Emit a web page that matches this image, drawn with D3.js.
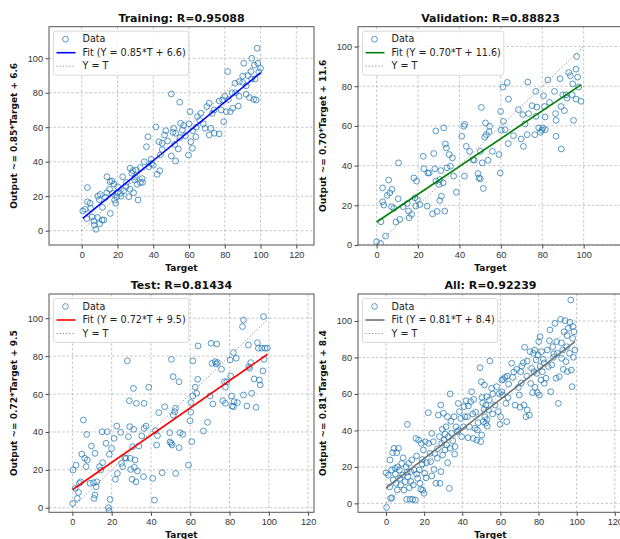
<!DOCTYPE html>
<html>
<head>
<meta charset="utf-8">
<style>
  body { margin: 0; background: #fff; }
  svg { display: block; font-family: "DejaVu Sans", sans-serif; }
  .tick text { font-size: 9.2px; fill: #333; }
  .tick line { stroke: #444; }
  .domain { display: none; }
</style>
</head>
<body>
<script src="https://d3js.org/d3.v7.min.js"></script>
<script>
const W = 620, H = 539;

// [target, output] pairs
const trainData = [
  [0.6,11.4],[1.9,12.4],[3.2,16.8],[3.2,25],[2.8,7],[4.7,15.9],[5.8,8],[7.1,3.3],[7.9,0.8],[6.8,5.6],
  [8.8,7.7],[9.8,18],[10.3,21],[11.4,6.2],[12.4,6.2],[11.6,13.5],[13.3,19.3],[14.1,31.3],[15.9,28.4],[16.9,28.8],
  [15.6,24],[17.3,21.7],[18.4,17.8],[19,15.9],[19.7,19.7],[20.1,25.5],[21.6,21.7],[22.9,31.3],[23.5,23.2],[24.8,25.5],
  [26.3,19.7],[27,36.2],[28,33.3],[28.7,34.8],[29.6,29.4],[30.4,35.2],[31,26.9],[31.5,17.8],[32.8,27.9],[33.8,30.2],
  [32.8,36.6],[36.2,48.7],[37,54.5],[37.5,37.1],[38.8,41.4],[41.5,60.2],[42.2,32.7],[43.7,34.8],[43.2,51.6],[45,50.7],
  [46.3,55.5],[50.1,79.3],[50.1,43.3],[51.4,59.4],[52.5,56.5],[52.5,40.4],[54.8,74.5],[55.3,62.3],[54,47.4],[56.3,58.4],
  [59.7,43.9],[60.6,69],[61,51.6],[61.9,47.8],[63.8,54.5],[64.7,66.2],[66.6,68.1],[69,59.4],[71.3,55.5],[71.3,73.9],
  [72.2,59.4],[74.1,56.5],[76.9,56.1],[76.9,75.2],[78.8,75.8],[79.4,63.2],[80.9,69],[81.6,92.3],[83.1,69],[84.4,71],
  [85.7,85.5],[87.6,72.3],[88.2,86.5],[90,89.7],[90.6,97.1],[92,79.1],[93.8,77.2],[94.7,92.3],[95.1,100],[96.2,76.2],
  [97.6,75.8],[98.5,97.1],[98.1,105.8],[100,94.2],[96.5,96],[20,22],[25,28],[35,40],[45,47],[48,52],
  [52,50],[58,55],[62,58],[68,62],[74,70],[82,76],[86,80],[92,84],[95,88],[5,13],
  [9,20],[14,22],[18,27],[22,20],[27,24],[30,31],[34,28],[39,39],[44,44],[47,58],
  [51,57],[55,54],[57,61],[60,62],[66,64],[70,72],[73,68],[78,70],[80,78],[84,80],
  [88,78],[90,86],[93,90],[97,88],[99,92],[10,4],[16,10],[29,22],[40,38],[64,60]
];

const valData = [
  [0,1.7],[1.9,0.8],[2.1,11.7],[2.9,28.8],[2.9,21.8],[3.5,20.1],[4.3,4.5],[5.1,25],[5.8,32.7],[6.4,26.3],
  [7.4,28],[7.2,19.3],[8.3,18.4],[9.3,11.6],[10.6,41.4],[10.4,23.3],[11.2,12.9],[12.8,19.3],[14.8,20.9],[15.4,17.1],
  [15.7,13.7],[16.9,15.4],[18,33.8],[18.5,23.8],[19.3,32.2],[18.9,19.6],[19.7,22.9],[20.9,20.4],[22.5,44.7],[22.8,38.4],
  [24.7,36.3],[25.4,36.3],[24.4,19.6],[27,15.7],[27.6,46.1],[28.1,38.4],[28.6,57.5],[28.6,32.2],[29.2,16.9],[30.2,30.5],
  [30.5,33],[31,37.5],[30.5,22.4],[31.3,24.6],[32.1,31.3],[32.4,59],[32.9,17.1],[33.2,50.9],[33.7,48.9],[34,38.9],
  [35,45.6],[35.6,39.7],[36.6,43.9],[37.2,34.7],[38.5,26.6],[41.1,54.8],[42.1,59.8],[42.5,60.8],[42.4,34.7],[43.3,49.7],
  [44.9,47.2],[46.5,43],[47.2,42.7],[49,36],[49.4,33.8],[50.1,33.3],[50.1,47.2],[50.6,69.3],[51,41.4],[51.5,28.5],
  [52.2,54.4],[52.6,61.5],[53,55.6],[53.8,42.7],[54.3,57.1],[54.6,59.8],[55.9,47.2],[59.1,45.6],[59.7,36.3],[59.9,67.3],
  [60.2,57.8],[61,79.6],[61.3,62.3],[62,58.1],[63.1,81.9],[63.6,51.1],[63.7,73.5],[66.1,55.1],[68.5,68.2],[69.8,53.4],
  [70.6,65.7],[70.9,49.7],[71.7,61],[72.7,55.6],[73,82.1],[73.4,66.2],[75.1,70.2],[76.4,55.6],[76.9,77.4],[77,64.8],
  [77.4,69.5],[78.3,59],[79.1,56.8],[79.8,57.8],[80.3,59],[80.6,75.2],[81.1,69.8],[81.4,64.5],[81.5,58.1],[82.7,83.2],
  [83.5,71.9],[85.9,77.4],[86.4,66.2],[86.7,62.8],[86.7,54.8],[88.6,83.8],[89.1,69.8],[89.2,48.4],[89.9,75.7],[90.7,67.7],
  [91.5,75.7],[92,74],[92.8,86.9],[93.6,85.3],[94.4,75.7],[94.7,81.2],[95.1,62.8],[96.3,88.6],[96.3,73.5],[96.6,95],
  [97.1,84.6],[97.6,79.6],[98.7,72.4]
];

const testData = [
  [0.2,2.3],[0.3,19.9],[1.9,22.5],[1.4,10.2],[2.5,4.9],[3.1,8.1],[3.6,12.9],[4.2,13.7],[4.8,28.3],[5.6,46.3],
  [6.3,26.1],[7,21.7],[7.3,38.7],[7.6,25.2],[9,12.9],[9.7,32.6],[10.7,13.2],[11,4.9],[11.5,6.7],[11.5,28.7],
  [12.1,11.1],[12.4,13.7],[13.8,21.7],[14.4,19.9],[15.1,40.1],[15.4,23.8],[17.1,34],[17.8,40.1],[18.3,0],[18.7,-1.6],
  [18.8,28.2],[19.2,4.4],[20,31.3],[21.2,36.6],[21.9,15],[22.6,43.1],[22.9,18.1],[24.6,39.8],[25,23.4],[25.6,21.7],
  [26.7,26.4],[27.3,26.1],[28,77.6],[28.5,37.5],[29,56.5],[29.2,42.8],[29.4,26.1],[29.7,20.2],[30.4,15],[30.7,32.2],
  [31.1,63],[31.2,41.4],[31.6,21.3],[31.9,25.2],[32.4,13.7],[32.6,55.1],[33.1,19.4],[33.8,32.6],[35.3,37.9],[36.2,16.4],
  [36.5,55.1],[36.5,41.9],[37.5,43.1],[38.9,63.6],[40.9,15.5],[41.8,4],[42.3,40.7],[42.9,33.1],[43.3,38],[44,50.2],
  [45.7,18.5],[47,53.3],[49.6,39.6],[49.7,34.7],[50.3,34],[50.4,78.3],[50.8,33.1],[51.3,69.2],[51.4,48.9],[52.1,50.7],
  [52.5,52.5],[52.6,18.1],[54.3,66.5],[54.3,31.7],[54.8,39.6],[56.2,38.7],[59.1,22.5],[59.9,45.9],[60.3,50.4],[60.3,55.5],
  [60.8,34.9],[61.3,77.5],[61.3,59],[62.5,63.6],[63.3,60.4],[63.8,67.8],[64,85.4],[66.7,40.5],[68.8,45.1],[70.1,59],
  [70.6,86.8],[71.1,76.2],[71.5,54.8],[72.7,77.1],[73.2,75.9],[73.5,86.4],[73.9,76.6],[75.9,73.1],[76.6,56.5],[77.4,66.5],
  [77.9,63.6],[77.9,55.1],[78.6,66.5],[80.3,78],[80.6,69.5],[81,59],[81.3,53.7],[82,53.3],[82,81.9],[82.3,56],
  [83.4,78.9],[84,55.5],[86.6,95.6],[87.1,99.1],[87.1,59.5],[88.8,53.7],[89.6,85.9],[89.8,74.5],[90.2,73.6],[90.8,76.6],
  [91.3,60.4],[92.5,68],[93.5,53],[94.2,87.1],[94.7,84.2],[95.2,67.4],[95.6,64.8],[96.4,84.2],[97,72.2],[97.3,100.9],
  [97.6,78.3],[98.1,84.2],[99.3,84.2]
];

const allData = [
  [0.3,-2.2],[0,16.8],[1.2,15.5],[2.1,23.8],[2.4,2.7],[3.1,3.1],[3,18.3],[3.5,27.8],[3.8,12.8],[4.2,30.2],
  [4.7,19.2],[4.9,16.1],[5.2,11],[5.6,27.8],[5.9,7.3],[6.5,30.2],[7,18.3],[7.3,13.7],[7.7,10.1],[8.2,21.9],
  [8.7,15.5],[9.4,7.3],[10,11.9],[10.5,20.1],[10.8,2.2],[11.2,43.3],[11.4,14.6],[11.9,21.9],[12.2,8.6],[12.6,2.2],
  [12.9,17.4],[13.5,23.8],[14,2.2],[14.3,10.1],[14.7,18.3],[15.4,1.8],[15.7,35.6],[16.1,16.1],[16.6,13.7],[17.1,34.7],
  [17.5,18.3],[17.8,11],[18.2,7.7],[18.5,32.9],[18.9,21.6],[19.2,7.3],[19.6,29.3],[19.9,5.5],[20.3,16.5],[20.6,33.8],
  [21.3,22.3],[22.2,49.7],[22.4,32.9],[23.1,27.4],[23.4,22.9],[24,38.4],[24.8,33.8],[25.2,18.6],[25.5,27.4],[26.2,11],
  [26.9,24.7],[27.4,48.4],[28,36.6],[28.3,11],[28.7,53.9],[28.8,17.4],[29.2,32.9],[29.5,40.6],[29.7,26.5],[30.1,49.4],
  [30.4,34.7],[30.9,29.3],[31.5,42],[31.8,32],[32.2,47.5],[32.3,22.3],[32.7,36.6],[33.2,8.2],[33.6,60],[33.6,30.2],
  [34.4,38.4],[35,34.4],[35.7,47.5],[36.2,31.1],[36.7,42],[37.4,39.3],[37.9,54.8],[38.5,50.3],[39.2,46.6],[39.7,36.6],
  [40.6,42],[40.9,53],[41.4,47.5],[42,56.3],[42.7,47.5],[43.2,53.4],[43.7,42],[44.4,55.8],[44.9,61.2],[45.5,49],
  [45.8,35.6],[46.7,41.1],[47.6,34.7],[47.9,40.2],[48.4,44.2],[49.3,74.4],[49.7,33.8],[50,66.7],[50.2,37.5],[50.3,58.1],
  [50.7,55.2],[51,44.8],[51.4,51.6],[51.6,64.9],[51.9,47.5],[52.3,43.9],[52.4,53.9],[52.8,58.5],[53.1,42.4],[53.7,51.2],
  [54.2,56.7],[54.5,78.1],[55.4,63.1],[55.9,49],[57.2,53.9],[58.9,50.3],[59.4,60.3],[59.8,43.3],[60.1,47.5],[60.7,61.2],
  [60.7,67.6],[61.2,59.4],[61.5,68],[62.4,69.1],[62.9,54.8],[63.3,44.8],[63.6,69.8],[64.3,65.4],[65.9,76.8],[66.4,69.1],
  [67.7,53.9],[68.5,73.5],[69.4,63.6],[69.9,59.4],[70.3,52.7],[70.6,72.2],[71.2,75.3],[72,77.1],[72.4,53.9],[72.7,85.6],
  [73.4,47.5],[73.8,69.8],[74.1,51.2],[75.2,48.4],[75.5,83.2],[75.9,65.8],[76.4,74],[76.9,60.7],[77.3,82.3],[77.6,72.2],
  [78.1,63.6],[78.7,78.6],[79,71.3],[79.4,60.7],[79.7,81.4],[80.1,88.7],[80.4,59.4],[80.8,91.4],[80.8,75],[81.3,67.6],
  [81.6,83.2],[82,72.2],[82.5,79],[83,65.8],[83.9,68.6],[84.6,84.1],[85.1,75],[85.7,89.2],[86,95.1],[86.4,61.2],
  [86.9,75.9],[87.4,85.9],[87.8,80.1],[88.6,98.7],[89.2,68.6],[89.5,88.7],[89.9,82.3],[90.4,54.8],[90.9,69.5],[91.6,100.9],
  [92.1,79.5],[92.7,84.1],[93,73.5],[93.4,94.1],[93.9,100.2],[94.4,77.7],[94.8,85.9],[95.1,72.2],[95.6,96],[96.2,82.3],
  [96.5,99.3],[96.9,111.5],[97.2,73.1],[97.6,64],[97.9,90.5],[98.3,80.1],[98.6,94.1],[99.1,84.1],
  [6,20],[9,25],[13,12],[16,26],[21,14],[27,30],[31,38],[34,45],[38,40],[43,36],
  [47,50],[53,46],[56,60],[58,64],[64,58],[67,72],[71,66],[74,78],[78,84],[83,77],
  [88,82],[92,88],[95,92],[98,97],[2,9],[11,17],[19,24],[24,15],[36,27],[46,57]
];

const panelTitles = ["Training: R=0.95088", "Validation: R=0.88823", "Test: R=0.81434", "All: R=0.92239"];
const fitSlopes = [0.85, 0.70, 0.72, 0.81];
const fitIntercepts = [6.6, 11.6, 9.5, 8.4];
const fitColors = ["#0000ff", "#008000", "#ff0000", "#707070"];
const xTicks = [0, 20, 40, 60, 80, 100, 120];
const yTicks = [0, 20, 40, 60, 80, 100];
const xLims = [[-18.3, 129.9], [-9.0, 119.0], [-11.9, 123.0], [-14.7, 124.3]];
const yLims = [[-8.3, 118.3], [0, 110.0], [-2.4, 112.8], [-4.9, 114.8]];
const datasets = [trainData, valData, testData, allData];

// axes boxes [left, top, right, bottom]
const boxes = [
  [49, 26.7, 314, 245],
  [358, 26.7, 623, 245],
  [49, 294, 314, 512.3],
  [358, 294, 623, 512.3]
];

const svg = d3.select("body").append("svg")
  .attr("width", W)
  .attr("height", H);

boxes.forEach((b, i) => {
  const [l, t, r, bt] = b;
  const data = datasets[i];
  const x = d3.scaleLinear().domain(xLims[i]).range([l, r]);
  const y = d3.scaleLinear().domain(yLims[i]).range([bt, t]);
  const xt = xTicks.filter(v => v >= xLims[i][0] && v <= xLims[i][1]);
  const yt = yTicks.filter(v => v >= yLims[i][0] && v <= yLims[i][1]);

  const g = svg.append("g");
  g.append("clipPath").attr("id", "clip" + i)
    .append("rect").attr("x", l).attr("y", t).attr("width", r - l).attr("height", bt - t);

  // grid
  g.selectAll(".gx").data(xt).enter().append("line")
    .attr("x1", d => x(d)).attr("x2", d => x(d)).attr("y1", t).attr("y2", bt)
    .attr("stroke", "#b8b8b8").attr("stroke-width", 0.8).attr("stroke-dasharray", "2.5,2");
  g.selectAll(".gy").data(yt).enter().append("line")
    .attr("y1", d => y(d)).attr("y2", d => y(d)).attr("x1", l).attr("x2", r)
    .attr("stroke", "#b8b8b8").attr("stroke-width", 0.8).attr("stroke-dasharray", "2.5,2");

  const plot = g.append("g").attr("clip-path", `url(#clip${i})`);
  const tExt = d3.extent(data, d => d[0]);

  plot.selectAll("circle").data(data).enter().append("circle")
    .attr("cx", d => x(d[0])).attr("cy", d => y(d[1])).attr("r", 2.9)
    .attr("fill", "none").attr("stroke", "#1f77b4").attr("stroke-opacity", 0.75).attr("stroke-width", 1);

  const line = d3.line().x(d => x(d[0])).y(d => y(d[1]));
  plot.append("path")
    .attr("d", line([[tExt[0], fitSlopes[i] * tExt[0] + fitIntercepts[i]], [tExt[1], fitSlopes[i] * tExt[1] + fitIntercepts[i]]]))
    .attr("stroke", fitColors[i]).attr("stroke-width", 1.6).attr("fill", "none");
  plot.append("path")
    .attr("d", line([[0, 0], [100, 100]]))
    .attr("stroke", "#888").attr("stroke-width", 1).attr("stroke-dasharray", "1.2,2").attr("fill", "none");

  // axes
  g.append("g").attr("transform", `translate(0,${bt})`)
    .call(d3.axisBottom(x).tickValues(xt).tickSize(3.5).tickPadding(2.5));
  g.append("g").attr("transform", `translate(${l},0)`)
    .call(d3.axisLeft(y).tickValues(yt).tickSize(3.5).tickPadding(2.5));

  g.append("rect").attr("x", l).attr("y", t).attr("width", r - l).attr("height", bt - t)
    .attr("fill", "none").attr("stroke", "#555").attr("stroke-width", 1);

  // title and labels
  g.append("text").attr("x", (l + r) / 2).attr("y", t - 5)
    .attr("text-anchor", "middle").attr("font-size", 11).attr("font-weight", "bold").attr("fill", "#111")
    .text(panelTitles[i]);
  g.append("text").attr("x", (l + r) / 2).attr("y", bt + 26)
    .attr("text-anchor", "middle").attr("font-size", 9).attr("font-weight", "bold").attr("fill", "#111")
    .text("Target");
  g.append("text")
    .attr("transform", `translate(${l - 32},${(t + bt) / 2}) rotate(-90)`)
    .attr("text-anchor", "middle").attr("font-size", 9).attr("font-weight", "bold").attr("fill", "#111")
    .text(`Output ~= ${fitSlopes[i].toFixed(2)}*Target + ${fitIntercepts[i].toFixed(1)}`);

  // legend
  const lg = g.append("g").attr("transform", `translate(${l + 4.5},${t + 4.5})`);
  const bg = lg.append("rect").attr("rx", 2.5)
    .attr("fill", "#fff").attr("fill-opacity", 0.85).attr("stroke", "#d0d0d0").attr("stroke-width", 0.8);
  const labels = ["Data", `Fit (Y = ${fitSlopes[i].toFixed(2)}*T + ${fitIntercepts[i].toFixed(1)})`, "Y = T"];
  labels.forEach((s, k) => {
    lg.append("text").attr("x", 29).attr("y", 11 + k * 13.5).attr("font-size", 9.6).attr("fill", "#222").text(s);
  });
  lg.append("circle").attr("cx", 12).attr("cy", 8).attr("r", 2.9)
    .attr("fill", "none").attr("stroke", "#1f77b4").attr("stroke-opacity", 0.75);
  lg.append("line").attr("x1", 3).attr("x2", 22).attr("y1", 21.5).attr("y2", 21.5)
    .attr("stroke", fitColors[i]).attr("stroke-width", 1.6);
  lg.append("line").attr("x1", 3).attr("x2", 22).attr("y1", 35).attr("y2", 35)
    .attr("stroke", "#888").attr("stroke-width", 1).attr("stroke-dasharray", "1.2,2");
  const bb = lg.node().getBBox();
  bg.attr("x", 0).attr("y", 0).attr("width", bb.width + 6).attr("height", 44);
});
</script>
</body>
</html>
